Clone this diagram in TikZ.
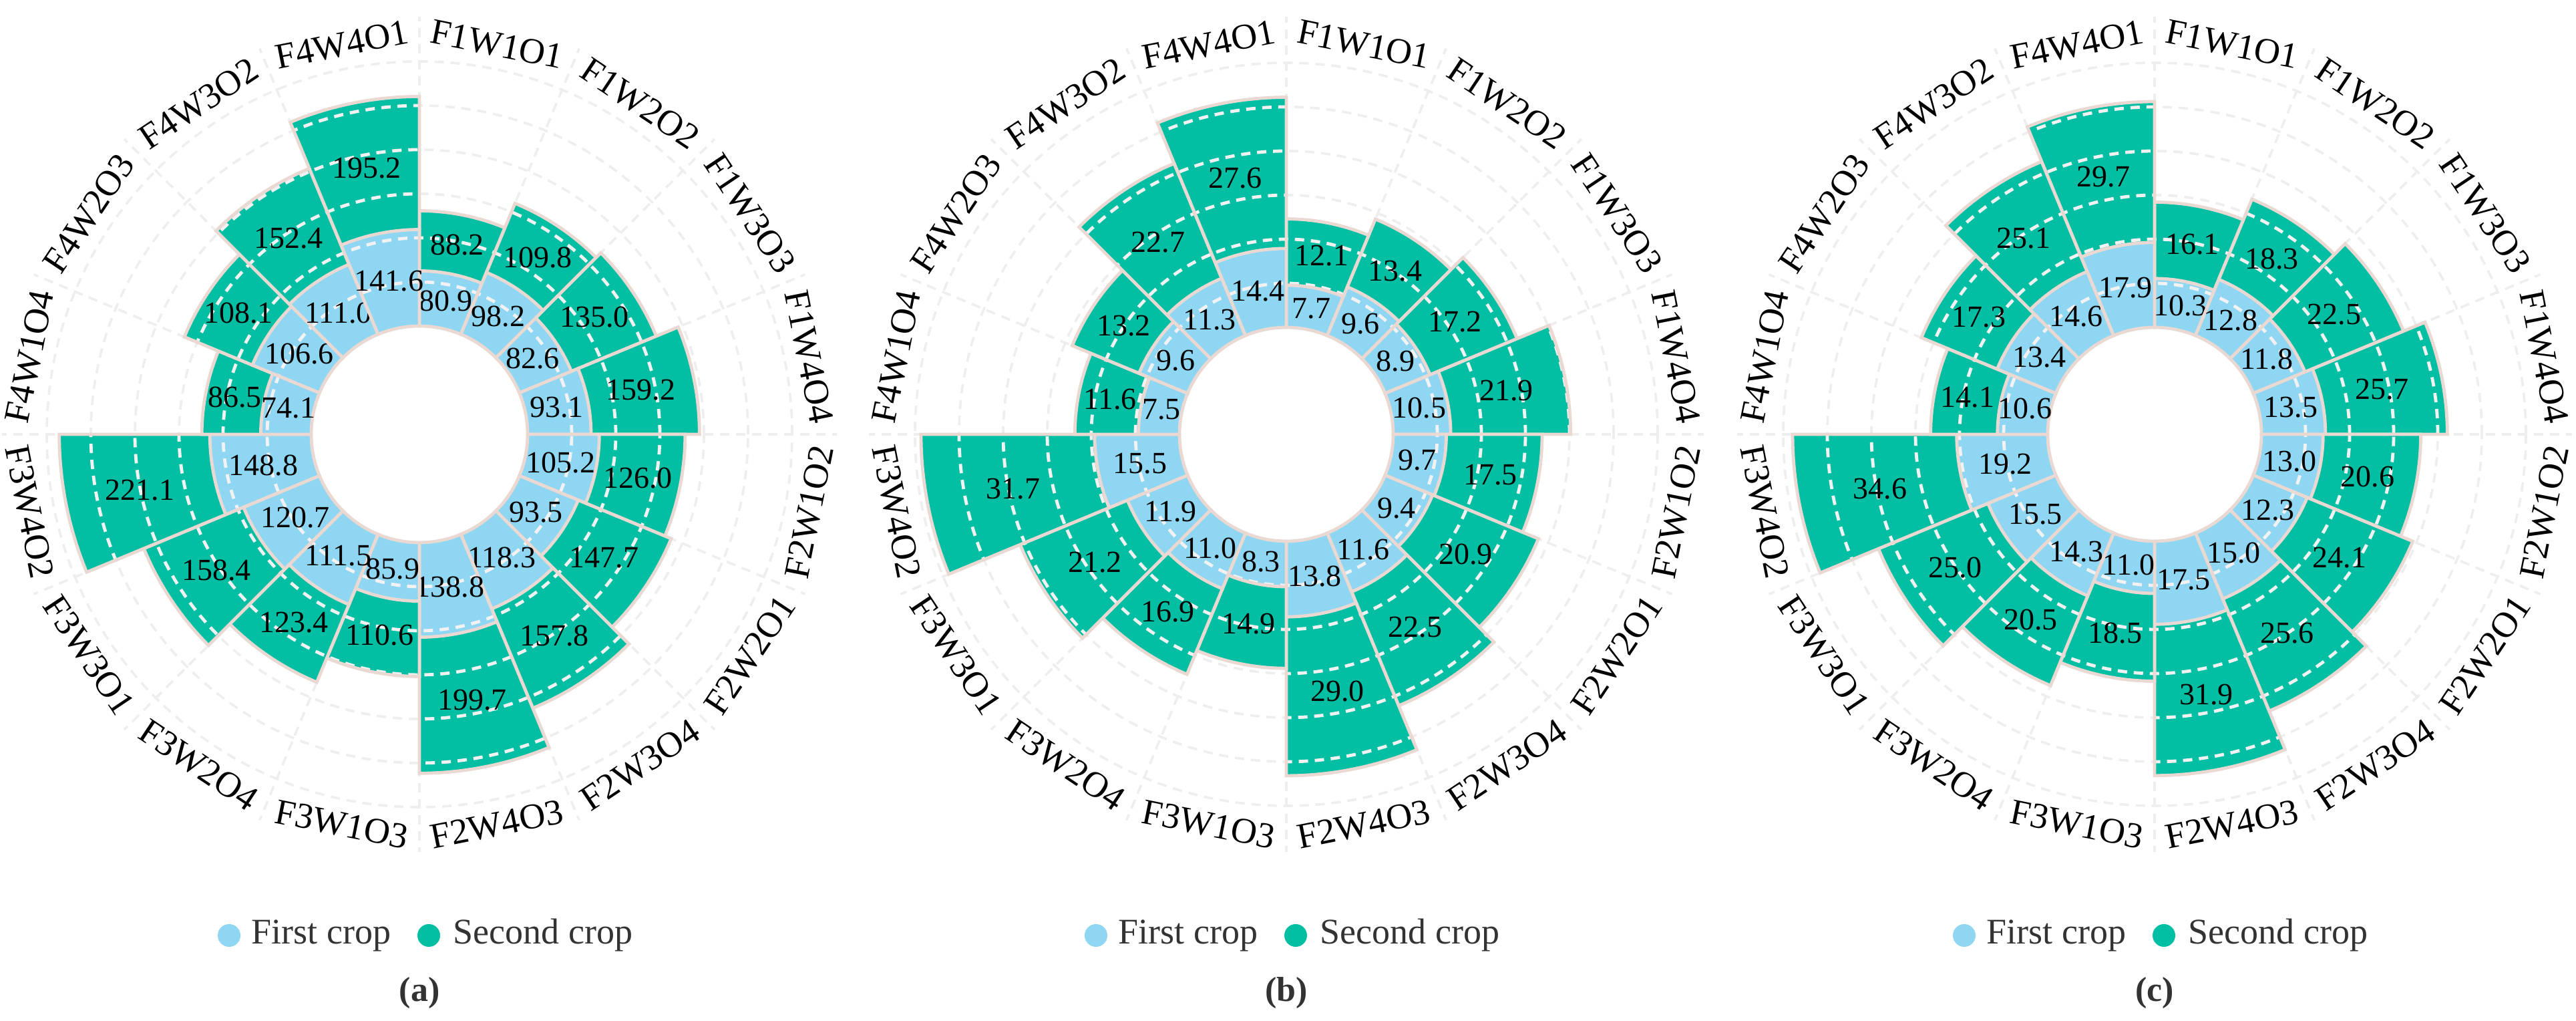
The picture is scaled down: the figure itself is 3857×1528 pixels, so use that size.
\documentclass[tikz,border=0pt]{standalone}
\usepackage{fontspec}
\setmainfont{Liberation Serif}
\definecolor{c1}{HTML}{8FD6F2}
\definecolor{c2}{HTML}{02BFA3}
\definecolor{gridc}{HTML}{EEEEEE}
\definecolor{barline}{HTML}{EAD8D2}
\tikzset{
  gridline/.style={draw=gridc,line width=0.9,dash pattern=on 3.5pt off 2.5pt},
  wgrid/.style={draw=white!90!gray,line width=1.2,dash pattern=on 3.5pt off 2.5pt},
  val/.style={font=\fontsize{11.5}{13}\selectfont,text=black,inner sep=0},
  lab/.style={font=\fontsize{13.5}{15}\selectfont,text=black,inner sep=0},
  leg/.style={font=\fontsize{13.5}{15}\selectfont,text=black!80,inner sep=0,anchor=west},
  ttl/.style={font=\fontsize{13}{15}\selectfont\bfseries,text=black!80,inner sep=0},
  barp/.style={draw=barline,line width=1.2}
}
\newcommand\polarchart[5]{%
\begin{scope}[shift={(#1,878)}]
  \foreach \j in {1,...,6} \draw[gridline] (0,0) circle[radius={#3+66*\j}];
  \foreach \j in {0,...,15} \draw[gridline] ({90-22.5*\j}:#3) -- ({90-22.5*\j}:625);
  \foreach \va/\vb/\lb [count=\i from 0] in {#4} {
    \pgfmathsetmacro\s{90-22.5*\i}
    \pgfmathsetmacro\e{\s-22.5}
    \pgfmathsetmacro\m{\s-11.25}
    \pgfmathsetmacro\mm{\m< -180 ? \m+360 : \m}
    \pgfmathsetmacro\rot{\mm>0 ? \mm-90 : \mm+90}
    \pgfmathsetmacro\ra{#3+#2*\va}
    \pgfmathsetmacro\rb{#3+#2*(\va+\vb)}
    \fill[c1] (\s:#3) -- (\s:\ra) arc[start angle=\s,end angle=\e,radius=\ra] -- (\e:#3) arc[start angle=\e,end angle=\s,radius=#3] -- cycle;
    \fill[c2] (\s:\ra) -- (\s:\rb) arc[start angle=\s,end angle=\e,radius=\rb] -- (\e:\ra) arc[start angle=\e,end angle=\s,radius=\ra] -- cycle;
    \begin{scope}
      \clip (\s:#3) -- (\s:\rb) arc[start angle=\s,end angle=\e,radius=\rb] -- (\e:#3) arc[start angle=\e,end angle=\s,radius=#3] -- cycle;
      \foreach \j in {1,...,6} \draw[wgrid] (0,0) circle[radius={#3+66*\j}];
    \end{scope}
    \draw[barp] (\s:#3) -- (\s:\ra) arc[start angle=\s,end angle=\e,radius=\ra] -- (\e:#3) arc[start angle=\e,end angle=\s,radius=#3] -- cycle;
    \draw[barp] (\s:\ra) -- (\s:\rb) arc[start angle=\s,end angle=\e,radius=\rb] -- (\e:\ra);
    \node[val] (#5f\i) at (\m:{(#3+\ra)/2}) {\va};
    \node[val] (#5s\i) at (\m:{(\ra+\rb)/2}) {\vb};
    \node[lab,rotate=\rot] (#5l\i) at (\m:595) {\lb};
  }
  \fill[c1] (-285,-750) circle[radius=17] coordinate (#5d1);
  \node[leg] (#5t1) at (-252,-750) {First crop};
  \fill[c2] (14,-750) circle[radius=17] coordinate (#5d2);
  \node[leg] (#5t2) at (50,-750) {Second crop};
  \node[ttl] (#5tt) at (0,-836) {(#5)};
\end{scope}}
\begin{document}
\begin{tikzpicture}[x=0.25pt,y=0.25pt]
\useasboundingbox (0,0) rectangle (3857,1528);
\fill[white] (0,0) rectangle (3857,1528);
\polarchart{628}{1.02}{162}{80.9/88.2/F1W1O1,98.2/109.8/F1W2O2,82.6/135.0/F1W3O3,93.1/159.2/F1W4O4,105.2/126.0/F2W1O2,93.5/147.7/F2W2O1,118.3/157.8/F2W3O4,138.8/199.7/F2W4O3,85.9/110.6/F3W1O3,111.5/123.4/F3W2O4,120.7/158.4/F3W3O1,148.8/221.1/F3W4O2,74.1/86.5/F4W1O4,106.6/108.1/F4W2O3,111.0/152.4/F4W3O2,141.6/195.2/F4W4O1}{a}
\polarchart{1926}{8.2}{160}{7.7/12.1/F1W1O1,9.6/13.4/F1W2O2,8.9/17.2/F1W3O3,10.5/21.9/F1W4O4,9.7/17.5/F2W1O2,9.4/20.9/F2W2O1,11.6/22.5/F2W3O4,13.8/29.0/F2W4O3,8.3/14.9/F3W1O3,11.0/16.9/F3W2O4,11.9/21.2/F3W3O1,15.5/31.7/F3W4O2,7.5/11.6/F4W1O4,9.6/13.2/F4W2O3,11.3/22.7/F4W3O2,14.4/27.6/F4W4O1}{b}
\polarchart{3226}{7.1}{160}{10.3/16.1/F1W1O1,12.8/18.3/F1W2O2,11.8/22.5/F1W3O3,13.5/25.7/F1W4O4,13.0/20.6/F2W1O2,12.3/24.1/F2W2O1,15.0/25.6/F2W3O4,17.5/31.9/F2W4O3,11.0/18.5/F3W1O3,14.3/20.5/F3W2O4,15.5/25.0/F3W3O1,19.2/34.6/F3W4O2,10.6/14.1/F4W1O4,13.4/17.3/F4W2O3,14.6/25.1/F4W3O2,17.9/29.7/F4W4O1}{c}
\end{tikzpicture}
\end{document}
